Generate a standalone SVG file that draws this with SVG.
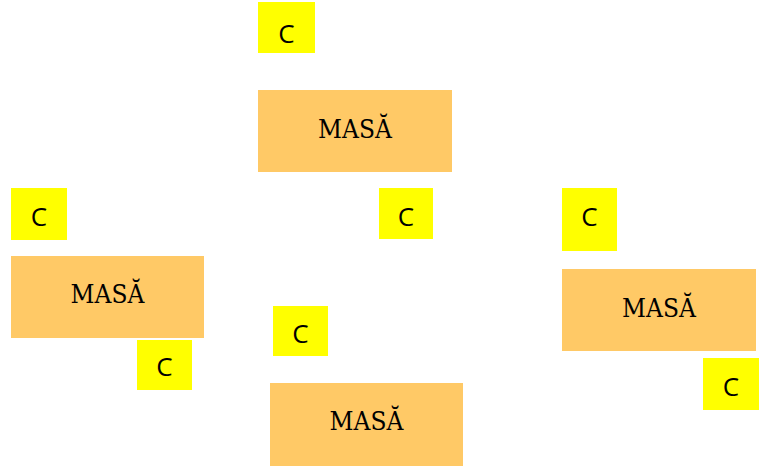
<svg xmlns="http://www.w3.org/2000/svg" width="761" height="466" viewBox="0 0 761 466">
  <style>
    .tag rect { fill: #FFFF00; }
    .tag text { font-family: "Open Sans", "Noto Sans", sans-serif; font-size: 26px; fill: #000; text-anchor: middle; }
    .mass rect { fill: #FFC966; }
    .mass text { font-family: "DejaVu Serif Condensed", "DejaVu Serif", serif; font-stretch: condensed; font-size: 26px; fill: #000; text-anchor: middle; }
  </style>
  <rect width="761" height="466" fill="#FFFFFF"/>
  <g id="connectors"/>

  <!-- masses -->
  <g id="mass-top" class="mass">
    <rect x="258" y="90" width="194" height="82"/>
    <text x="355" y="138">MASĂ</text>
  </g>
  <g id="mass-left" class="mass">
    <rect x="11" y="256" width="193" height="82"/>
    <text x="107.5" y="303">MASĂ</text>
  </g>
  <g id="mass-right" class="mass">
    <rect x="562" y="269" width="194" height="82"/>
    <text x="659" y="317">MASĂ</text>
  </g>
  <g id="mass-bottom" class="mass">
    <rect x="270" y="383" width="193" height="83"/>
    <text x="366.5" y="430">MASĂ</text>
  </g>

  <!-- C tags -->
  <g id="c-top" class="tag">
    <rect x="258" y="2" width="57" height="51"/>
    <text x="286.5" y="43">C</text>
  </g>
  <g id="c-middle" class="tag">
    <rect x="379" y="188" width="54" height="51"/>
    <text x="406" y="226">C</text>
  </g>
  <g id="c-left" class="tag">
    <rect x="11" y="188" width="56" height="52"/>
    <text x="39" y="226">C</text>
  </g>
  <g id="c-left-low" class="tag">
    <rect x="137" y="340" width="55" height="50"/>
    <text x="164.5" y="376">C</text>
  </g>
  <g id="c-right" class="tag">
    <rect x="562" y="188" width="55" height="63"/>
    <text x="589.5" y="226">C</text>
  </g>
  <g id="c-right-low" class="tag">
    <rect x="703" y="358" width="56" height="52"/>
    <text x="731" y="396">C</text>
  </g>
  <g id="c-bottom" class="tag">
    <rect x="273" y="306" width="55" height="50"/>
    <text x="300.5" y="343">C</text>
  </g>
</svg>
